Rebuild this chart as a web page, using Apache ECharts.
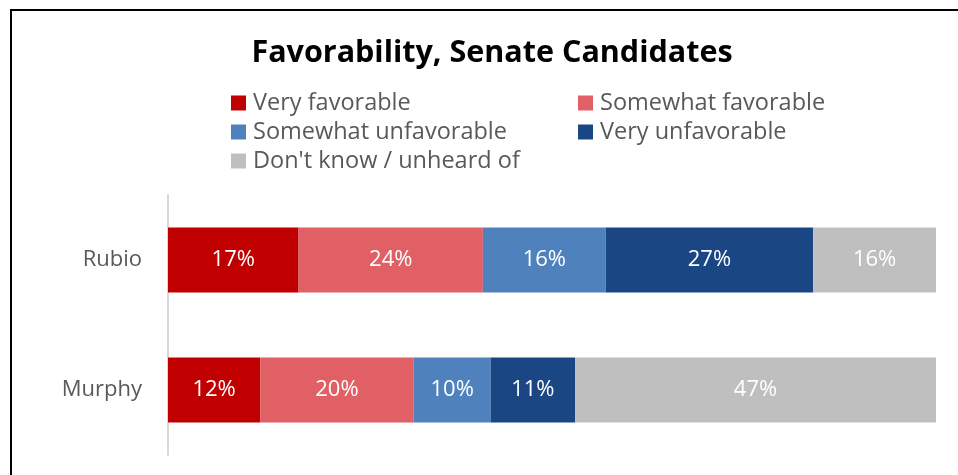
<!DOCTYPE html>
<html>
<head>
<meta charset="utf-8">
<script src="https://cdn.jsdelivr.net/npm/echarts@6/dist/echarts.min.js"></script>
<style>
  html, body { margin: 0; padding: 0; background: #fff; }
  #chart { width: 958px; height: 475px; }
</style>
</head>
<body>
<div id="chart"></div>
<script>
// Candidates and response shares (percent)
const candidates = ['Rubio', 'Murphy'];
const seriesNames = ['Very favorable', 'Somewhat favorable', 'Somewhat unfavorable', 'Very unfavorable', "Don't know / unheard of"];
const veryFavorable = [17, 12];
const somewhatFavorable = [24, 20];
const somewhatUnfavorable = [16, 10];
const veryUnfavorable = [27, 11];
const dontKnow = [16, 47];

const values = [veryFavorable, somewhatFavorable, somewhatUnfavorable, veryUnfavorable, dontKnow];
const colors = ['#C00000', '#E06066', '#4F81BD', '#1A4784', '#BFBFBF'];
const fontFamily = '"Open Sans", sans-serif';

// Legend placement: one legend per entry, laid out as a two-column grid
const legendSpots = [
  { left: 226, top: 86 },
  { left: 573, top: 86 },
  { left: 226, top: 115 },
  { left: 573, top: 115 },
  { left: 226, top: 144 }
];

const chart = echarts.init(document.getElementById('chart'), null, { renderer: 'canvas' });

chart.setOption({
  animation: false,
  backgroundColor: '#ffffff',
  title: {
    text: 'Favorability, Senate Candidates',
    left: 487,
    textAlign: 'center',
    top: 33,
    textStyle: { fontFamily: fontFamily, fontWeight: 'bold', fontSize: 30.5, color: '#000000' }
  },
  legend: seriesNames.map((name, i) => ({
    data: [name],
    left: legendSpots[i].left,
    top: legendSpots[i].top,
    itemWidth: 15,
    itemHeight: 15,
    itemGap: 0,
    icon: 'rect',
    selectedMode: false,
    textStyle: { fontFamily: fontFamily, fontSize: 23.5, color: '#595959', padding: [0, 0, 0, 2] }
  })),
  graphic: [{
    type: 'rect',
    shape: { x: 11, y: 10, width: 1000, height: 1000 },
    style: { fill: 'none', stroke: '#000000', lineWidth: 2 },
    silent: true
  }],
  grid: { left: 168, right: 22, top: 195, bottom: 20 },
  xAxis: {
    type: 'value',
    min: 0,
    max: 100,
    show: false
  },
  yAxis: {
    type: 'category',
    data: candidates,
    inverse: true,
    axisLine: { show: true, lineStyle: { color: '#D9D9D9', width: 2 } },
    axisTick: { show: false },
    axisLabel: { fontFamily: fontFamily, fontSize: 22, color: '#595959', margin: 26 }
  },
  series: seriesNames.map((name, i) => ({
    name: name,
    type: 'bar',
    stack: 'total',
    barWidth: 65,
    data: values[i],
    itemStyle: { color: colors[i], borderWidth: 0 },
    label: {
      show: true,
      position: 'inside',
      formatter: p => p.value + '%',
      fontFamily: fontFamily,
      fontSize: 22,
      color: '#ffffff'
    }
  }))
});
</script>
</body>
</html>
